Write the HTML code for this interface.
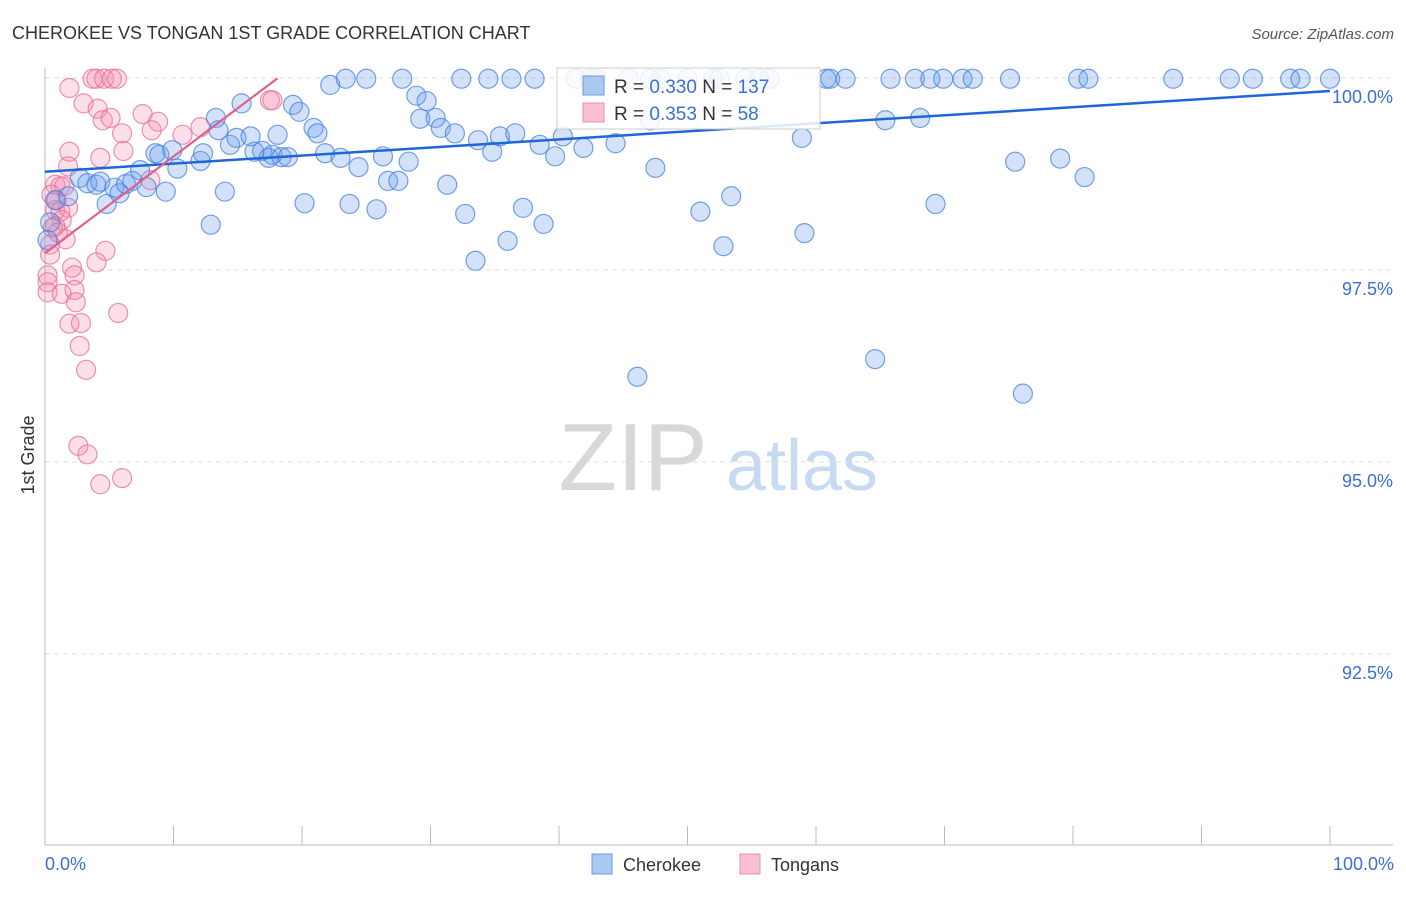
<!DOCTYPE html>
<html><head><meta charset="utf-8"><style>
body{margin:0;background:#fff;font-family:"Liberation Sans",sans-serif;}
svg text{font-family:"Liberation Sans",sans-serif;}
</style></head><body>
<svg id="chart" width="1406" height="892">
<text x="12" y="39" font-size="18" fill="#333">CHEROKEE VS TONGAN 1ST GRADE CORRELATION CHART</text>
<text x="1394" y="39" font-size="15" fill="#555" font-style="italic" text-anchor="end">Source: ZipAtlas.com</text>
<g>
<text x="633" y="490" font-size="96" fill="#d8d8d8" font-family="Liberation Serif,serif" text-anchor="middle">ZIP</text>
<text x="802" y="490" font-size="72" fill="#c8d9f2" text-anchor="middle">atlas</text>
</g>
<g id="grid"></g><g id="axes"></g><g id="pts"></g><g id="lines"></g>
<text transform="translate(34,455) rotate(-90)" font-size="18" fill="#333" text-anchor="middle">1st Grade</text>
<text x="45" y="870" font-size="18" fill="#3b6fd6">0.0%</text>
<text x="1394" y="870" font-size="18" fill="#3b6fd6" text-anchor="end">100.0%</text>
<g>
<rect x="557" y="68" width="263" height="61" fill="#fff" fill-opacity="0.85" stroke="#ccc"/>
<rect x="583" y="76" width="21" height="19" fill="#aac8f0" stroke="#6b9be0"/>
<text x="614" y="93" font-size="19" fill="#333">R = <tspan fill="#3b6fd6">0.330</tspan>   N = <tspan fill="#3b6fd6">137</tspan></text>
<rect x="583" y="103" width="21" height="19" fill="#f8c0d2" stroke="#e890ac"/>
<text x="614" y="120" font-size="19" fill="#333">R = <tspan fill="#3b6fd6">0.353</tspan>   N = <tspan fill="#3b6fd6"> 58</tspan></text>
</g>
<g>
<rect x="592" y="854" width="20" height="20" fill="#aac8f0" stroke="#6b9be0"/>
<text x="623" y="871" font-size="18" fill="#333">Cherokee</text>
<rect x="740" y="854" width="20" height="20" fill="#f8c0d2" stroke="#e890ac"/>
<text x="771" y="871" font-size="18" fill="#333">Tongans</text>
</g>
</svg>
<script>
const yTicks=[100,97.5,95,92.5];
const yTickLabels=["100.0%","97.5%","95.0%","92.5%"];
const xTicks=[0,10,20,30,40,50,60,70,80,90,100];
const cherokeeX=[0.8,1.8,2.7,3.3,4.0,4.3,4.8,5.4,5.8,6.3,6.8,7.4,7.9,8.6,8.9,9.4,9.9,10.3,12.1,12.3,12.9,13.3,13.5,14.0,14.4,14.9,15.3,16.0,16.3,16.9,17.4,17.7,18.1,18.4,18.9,19.3,19.8,20.2,20.9,21.2,21.8,22.2,23.0,23.4,23.7,24.4,25.0,25.8,26.3,26.7,27.5,27.8,28.3,28.9,29.2,29.7,30.4,30.8,31.3,31.9,32.4,32.7,33.5,33.7,34.5,34.8,35.4,36.0,36.3,36.6,37.2,38.1,38.5,38.8,39.7,40.3,41.3,41.9,42.9,44.4,45.4,47.5,47.9,50.0,51.0,52.0,52.8,53.4,54.5,56.4,59.1,58.9,60.8,61.1,62.3,64.6,65.4,65.8,67.7,68.1,68.9,69.3,69.9,71.4,72.2,75.1,75.5,79.0,80.4,81.2,80.9,87.8,92.2,94.0,96.9,97.7,100,46.1,76.1,42.4,47.1,52.5,55.6,47.1,0.2,0.4];
const cherokeeY=[98.41,98.46,98.70,98.63,98.61,98.65,98.36,98.57,98.50,98.62,98.66,98.80,98.58,99.02,99.00,98.52,99.06,98.82,98.92,99.02,98.09,99.48,99.32,98.52,99.13,99.22,99.67,99.24,99.04,99.05,98.96,99.00,99.26,98.97,98.97,99.65,99.56,98.37,99.35,99.28,99.02,99.91,98.96,99.99,98.36,98.84,99.99,98.29,98.98,98.66,98.66,99.99,98.91,99.77,99.47,99.70,99.48,99.35,98.61,99.28,99.99,98.23,97.62,99.19,99.99,99.04,99.24,97.88,99.99,99.28,98.31,99.99,99.13,98.10,98.98,99.24,99.99,99.09,99.99,99.15,99.99,98.83,99.99,99.99,98.26,99.99,97.81,98.46,99.99,99.99,97.98,99.22,99.99,99.99,99.99,96.34,99.45,99.99,99.99,99.48,99.99,98.36,99.99,99.99,99.99,99.99,98.91,98.95,99.99,99.99,98.71,99.99,99.99,99.99,99.99,99.99,99.99,96.11,95.89,99.99,99.99,99.99,99.99,99.45,97.89,98.12];
const tongansX=[1.9,3.7,4.0,4.6,5.2,5.6,3.0,4.1,4.5,5.1,6.0,6.1,7.6,8.3,8.8,8.2,10.7,12.1,17.5,17.7,4.3,1.9,1.8,0.8,1.2,1.5,0.8,1.2,1.8,1.3,0.8,0.6,1.6,0.4,0.4,4.7,4.0,2.1,2.3,0.2,0.2,0.2,1.3,2.3,2.4,1.9,2.8,5.7,2.7,3.2,2.6,3.3,4.3,6.0,1.0,0.5,0.9];
const tongansY=[99.87,99.99,99.99,99.99,99.99,99.99,99.67,99.60,99.45,99.48,99.28,99.05,99.53,99.32,99.43,98.67,99.26,99.36,99.71,99.71,98.96,99.04,98.85,98.61,98.59,98.59,98.28,98.26,98.31,98.15,98.07,98.05,97.90,97.83,97.70,97.75,97.60,97.53,97.43,97.43,97.34,97.21,97.19,97.24,97.08,96.80,96.81,96.94,96.51,96.20,95.21,95.10,94.71,94.79,97.99,98.48,98.41];
const cherokeeTrend=[98.78,99.83]; // y at x=0 and x=100
const tongansTrend=[97.72,0.1258,18.1]; // intercept, slope, end x
const X0=45,X1=1330,YT=78,YB=845;
const sx=v=>X0+(X1-X0)*v/100;
const sy=v=>YT+(100-v)*76.8;
const NS="http://www.w3.org/2000/svg";
function mk(tag,attrs,parent){const e=document.createElementNS(NS,tag);for(const k in attrs)e.setAttribute(k,attrs[k]);parent.appendChild(e);return e;}
const grid=document.getElementById('grid'),axes=document.getElementById('axes'),pts=document.getElementById('pts'),lines=document.getElementById('lines');
yTicks.forEach((t,i)=>{
 const l=mk('line',{x1:X0,x2:1393,y1:sy(t),y2:sy(t),stroke:'#dcdcdc','stroke-dasharray':'5,4'},grid);
 
 
 const tx=mk('text',{x:1393,y:sy(t)+25,'font-size':18,fill:'#3b6fd6','text-anchor':'end'},grid);
 tx.textContent=yTickLabels[i];
 
 
});
const ya=mk('line',{x1:X0,x2:X0,y1:68,y2:YB,stroke:'#bbb'},axes);


const xa=mk('line',{x1:X0,x2:1393,y1:YB,y2:YB,stroke:'#bbb'},axes);


xTicks.forEach(t=>{
 const l=mk('line',{x1:sx(t),x2:sx(t),y1:826,y2:YB,stroke:'#bbb'},axes);
 
 
});
function dots(xs,ys,fill,stroke,name){
 xs.forEach((x,i)=>{
  const c=mk('circle',{cx:sx(x),cy:sy(ys[i]),r:9.5,fill:fill,stroke:stroke,'stroke-width':1.2},pts);
  
  
 });
}
dots(tongansX,tongansY,'rgba(244,143,177,0.28)','rgba(232,110,150,0.75)','tongans-point');
dots(cherokeeX,cherokeeY,'rgba(110,160,235,0.3)','rgba(70,130,225,0.75)','cherokee-point');
const bl=mk('line',{x1:sx(0),y1:sy(cherokeeTrend[0]),x2:sx(100),y2:sy(cherokeeTrend[1]),stroke:'#1f66d6','stroke-width':2.5},lines);


const pl=mk('line',{x1:sx(0),y1:sy(tongansTrend[0]),x2:sx(tongansTrend[2]),y2:sy(tongansTrend[0]+tongansTrend[1]*tongansTrend[2]),stroke:'#e25f8c','stroke-width':2.2},lines);


</script>
</body></html>
